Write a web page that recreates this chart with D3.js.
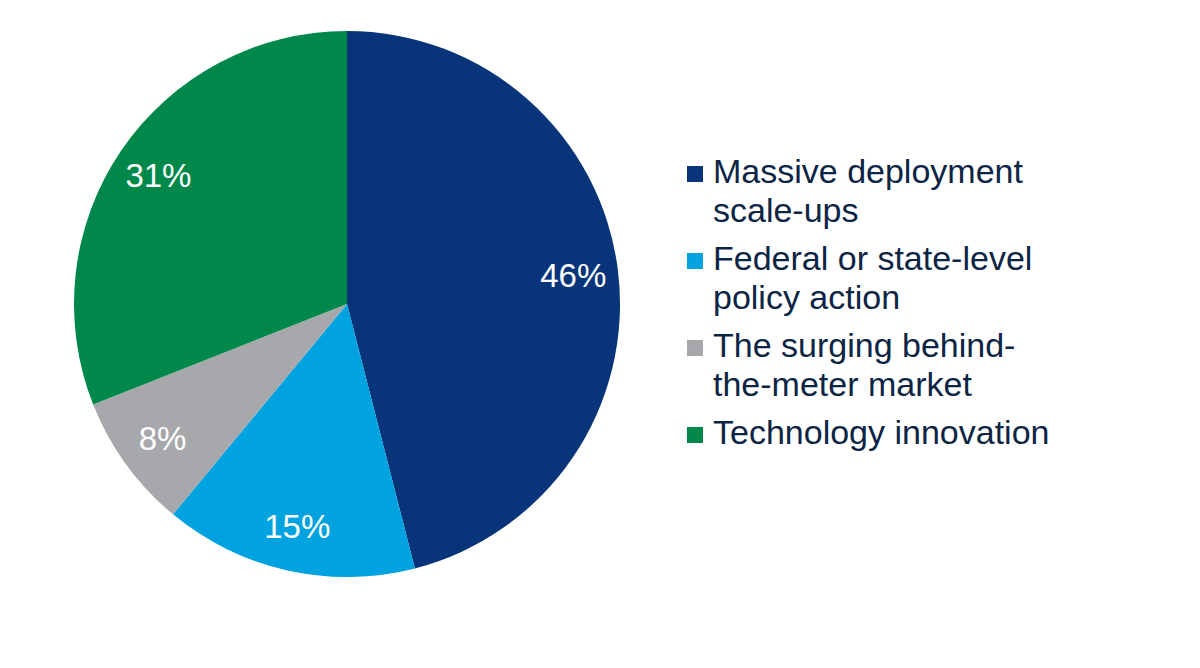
<!DOCTYPE html>
<html>
<head>
<meta charset="utf-8">
<script src="https://cdn.jsdelivr.net/npm/d3@7"></script>
<style>
  html, body { margin: 0; padding: 0; background: #ffffff; }
  svg { display: block; font-family: "Liberation Sans", Arial, sans-serif; }
</style>
</head>
<body>
<svg id="chart" width="1200" height="668"></svg>
<script>
// slice data, clockwise from 12 o'clock
var categories = [
  ['Massive deployment', 'scale-ups'],
  ['Federal or state-level', 'policy action'],
  ['The surging behind-', 'the-meter market'],
  ['Technology innovation']
];
var values = [46, 15, 8, 31];
var colors = ['#08357a', '#00a3e0', '#a7a8ab', '#00884a'];

var svg = d3.select('#chart');
var cx = 347, cy = 304, radius = 273;

var pie = d3.pie().sort(null).value(function(d) { return d; });
var arc = d3.arc().innerRadius(0).outerRadius(radius);
var labelArc = d3.arc().innerRadius(228).outerRadius(228);

var g = svg.append('g').attr('transform', 'translate(' + cx + ',' + cy + ')');
var slices = pie(values);

g.selectAll('path.slice')
  .data(slices)
  .enter().append('path')
  .attr('class', 'slice')
  .attr('d', arc)
  .attr('fill', function(d, i) { return colors[i]; });

g.selectAll('text.pct')
  .data(slices)
  .enter().append('text')
  .attr('class', 'pct')
  .attr('transform', function(d) { return 'translate(' + labelArc.centroid(d) + ')'; })
  .attr('text-anchor', 'middle')
  .attr('dy', '0.35em')
  .attr('fill', '#ffffff')
  .style('font-size', '33px')
  .text(function(d) { return d.value + '%'; });

// legend
var legend = svg.append('g').attr('transform', 'translate(687,0)');
var lineH = 39, groupGap = 48;
var y = 183;
categories.forEach(function(lines, i) {
  var item = legend.append('g');
  item.append('rect')
    .attr('x', 0).attr('y', y - 17)
    .attr('width', 16).attr('height', 16)
    .attr('fill', colors[i]);
  var t = item.append('text')
    .attr('x', 26).attr('y', y)
    .attr('fill', '#0c2545')
    .style('font-size', '34px');
  lines.forEach(function(s, j) {
    t.append('tspan').attr('x', 26).attr('dy', j === 0 ? 0 : lineH).text(s);
  });
  y += (lines.length - 1) * lineH + groupGap;
});
</script>
</body>
</html>
